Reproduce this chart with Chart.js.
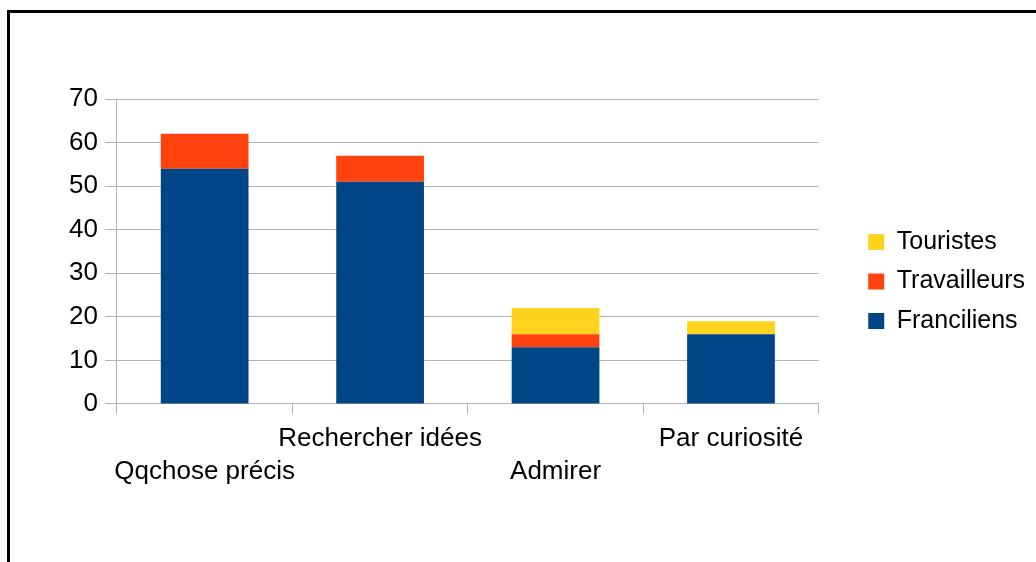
<!DOCTYPE html>
<html lang="fr">
<head>
    <meta charset="UTF-8">
    <title>Chart</title>
    <script src="https://cdn.jsdelivr.net/npm/chart.js"></script>
    <style>
        html, body { margin: 0; padding: 0; overflow: hidden; background: #fff; }
        .frame { position: absolute; left: 7px; top: 10px; width: 1100px; height: 700px; border: 3px solid #000; }
        .wrap { position: absolute; left: 0; top: 0; width: 1036px; height: 562px; }
    </style>
</head>
<body>
    <div class="frame"></div>
    <div class="wrap"><canvas id="chart"></canvas></div>

    <script>
        // staggered labels: first and third sit on the lower row
        const categories = [['', 'Qqchose précis'], 'Rechercher idées', ['', 'Admirer'], 'Par curiosité'];
        const franciliens = [54, 51, 13, 16];
        const travailleurs = [8, 6, 3, 0];
        const touristes = [0, 0, 6, 3];
        const yTicks = [0, 10, 20, 30, 40, 50, 60, 70];

        const gridColor = '#b3b3b3';
        Chart.defaults.font.family = '"Liberation Sans", Arial, sans-serif';
        Chart.defaults.color = '#000';

        // move the legend away from the plot, like the original layout
        const legendShift = {
            id: 'legendShift',
            afterLayout(chart) {
                const l = chart.legend;
                l.left += 35; l.right += 35;
                l.top -= 16; l.bottom -= 16;
            }
        };

        const ctx = document.getElementById('chart').getContext('2d');
        new Chart(ctx, {
            type: 'bar',
            data: {
                labels: categories,
                datasets: [
                    { label: 'Franciliens', data: franciliens, backgroundColor: '#004586' },
                    { label: 'Travailleurs', data: travailleurs, backgroundColor: '#ff420e' },
                    { label: 'Touristes', data: touristes, backgroundColor: '#ffd320' }
                ]
            },
            plugins: [legendShift],
            options: {
                responsive: true,
                maintainAspectRatio: false,
                animation: false,
                layout: { padding: { left: 62, top: 99, right: 36, bottom: 66 } },
                datasets: { bar: { barPercentage: 0.5, categoryPercentage: 1 } },
                plugins: {
                    tooltip: { enabled: false },
                    legend: {
                        position: 'right',
                        reverse: true,
                        labels: { boxWidth: 16, boxHeight: 16, padding: 14.5, font: { size: 25 } }
                    }
                },
                scales: {
                    x: {
                        stacked: true,
                        grid: { drawOnChartArea: false, drawTicks: true, tickLength: 10, color: gridColor },
                        border: { color: gridColor },
                        ticks: { font: { size: 26, lineHeight: 1.27 }, padding: 8, maxRotation: 0, autoSkip: false }
                    },
                    y: {
                        stacked: true,
                        min: yTicks[0],
                        max: yTicks[yTicks.length - 1],
                        afterBuildTicks: axis => { axis.ticks = yTicks.map(v => ({ value: v })); },
                        grid: { color: gridColor, tickLength: 12 },
                        border: { color: gridColor },
                        ticks: { font: { size: 26 }, padding: 7 }
                    }
                }
            }
        });
    </script>
</body>
</html>
